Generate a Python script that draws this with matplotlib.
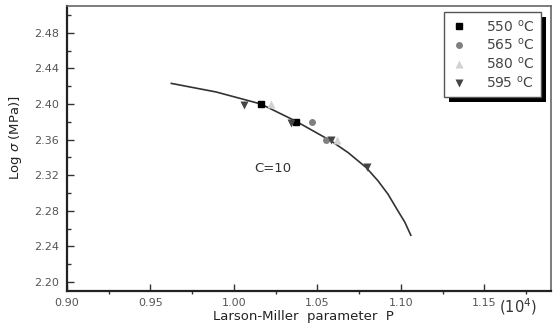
import numpy as np
import matplotlib
matplotlib.use("Agg")
import matplotlib.pyplot as plt
from matplotlib.patches import Rectangle
from matplotlib.ticker import MultipleLocator

# data (P in 10^4 units, log stress)
p_550 = [1.016, 1.037]
s_550 = [2.400, 2.380]
p_565 = [1.047, 1.055]
s_565 = [2.380, 2.360]
p_580 = [1.022, 1.062]
s_580 = [2.400, 2.360]
p_595 = [1.006, 1.034, 1.058, 1.080]
s_595 = [2.399, 2.379, 2.359, 2.329]

# fitted master curve (C=10)
curve_p = [0.9625, 0.9893, 1.0161, 1.0369, 1.0583, 1.0685, 1.0792, 1.0863,
           1.0923, 1.0982, 1.1024, 1.1060]
curve_s = [2.4231, 2.4135, 2.4000, 2.3809, 2.3584, 2.3453, 2.3287, 2.3138,
           2.2988, 2.2802, 2.2673, 2.2526]

series_labels = ['550 $^{\\mathrm{o}}$C', '565 $^{\\mathrm{o}}$C',
                 '580 $^{\\mathrm{o}}$C', '595 $^{\\mathrm{o}}$C']

plt.rcParams['font.family'] = 'DejaVu Sans'

fig = plt.figure(figsize=(5.59, 3.25), dpi=100)
ax = fig.add_axes([0.1199, 0.1046, 0.8658, 0.8769])

ax.plot(curve_p, curve_s, color='#333333', lw=1.2, zorder=2)

ax.plot(p_550, s_550, 's', color='black', ms=4.5, label=series_labels[0], zorder=3)
ax.plot(p_565, s_565, 'o', color='#808080', ms=5, mec='none', label=series_labels[1], zorder=3)
ax.plot(p_580, s_580, '^', color='#d2d2d2', ms=5.5, mec='none', label=series_labels[2], zorder=3)
ax.plot(p_595, s_595, 'v', color='#454545', ms=5.5, mec='none', label=series_labels[3], zorder=3)

ax.set_xlim(0.90, 1.19)
ax.set_ylim(2.19, 2.51)
ax.xaxis.set_major_locator(MultipleLocator(0.05))
ax.xaxis.set_minor_locator(MultipleLocator(0.025))
ax.yaxis.set_major_locator(MultipleLocator(0.04))
ax.yaxis.set_minor_locator(MultipleLocator(0.02))
ax.xaxis.set_major_formatter(plt.FormatStrFormatter('%.2f'))
ax.yaxis.set_major_formatter(plt.FormatStrFormatter('%.2f'))

ax.tick_params(axis='both', which='major', direction='in', length=5, width=1,
               color='#333333', labelsize=8, labelcolor='#555555')
ax.tick_params(axis='x', which='major', pad=5)
ax.tick_params(axis='y', which='major', pad=6)
ax.tick_params(axis='x', which='minor', direction='out', length=2.5, width=1, color='#333333')
ax.tick_params(axis='y', which='minor', direction='in', length=3, width=1, color='#333333')
ax.tick_params(top=False, right=False, which='both')

for side in ['left', 'bottom']:
    ax.spines[side].set_linewidth(1.6)
    ax.spines[side].set_color('#222222')
for side in ['top', 'right']:
    ax.spines[side].set_linewidth(1.2)
    ax.spines[side].set_color('#666666')

ax.text(1.012, 2.328, 'C=10', fontsize=9.5, color='#333333', ha='left', va='center')

fig.text(0.543, 0.026, 'Larson-Miller  parameter  P', fontsize=9.5, color='#222222',
         ha='center', va='center')
fig.text(0.027, 0.577, 'Log $\\sigma$ (MPa)]', fontsize=9.5, color='#222222',
         ha='center', va='center', rotation=90)
fig.text(0.893, 0.057, '(10$^{4}$)', fontsize=10.5, color='#333333', ha='left', va='center')

leg = ax.legend(loc='upper right', bbox_to_anchor=(0.979, 0.979), borderaxespad=0,
                fontsize=10, frameon=True, fancybox=False, framealpha=1,
                handlelength=1.2, handletextpad=1.4, labelspacing=0.2,
                borderpad=0.45, labelcolor='#444444')
leg.get_frame().set_edgecolor('#555555')
leg.get_frame().set_facecolor('white')
leg.get_frame().set_linewidth(1)
leg.set_zorder(6)

# hard black drop shadow offset down-right, like the original
fig.canvas.draw()
bb = leg.get_window_extent().transformed(ax.transAxes.inverted())
dx = 5 / (ax.bbox.width)
dy = 5 / (ax.bbox.height)
ax.add_patch(Rectangle((bb.x0 + dx, bb.y0 - dy), bb.width, bb.height,
                       transform=ax.transAxes, facecolor='black', edgecolor='none',
                       zorder=5, clip_on=False))

fig.savefig('out.png', dpi=100)
